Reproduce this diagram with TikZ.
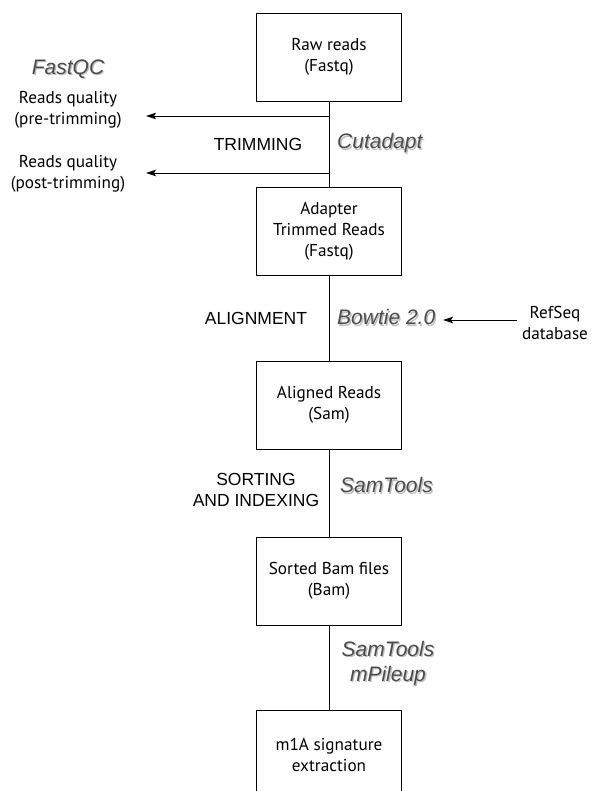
\documentclass[tikz,border=0pt]{standalone}
\usepackage{fontspec}
\setmainfont{PT Sans}
\newfontfamily\arialfont{Liberation Sans}
\usetikzlibrary{arrows.meta}
\newcommand\shtxt[1]{\makebox[0pt][l]{\hspace{1.3pt}\raisebox{-1.3pt}{\color{black!25}#1}}{\color{black!70}#1}}
\begin{document}
\begin{tikzpicture}[x=1pt,y=-1pt,
  box/.style={draw,line width=0.9pt,rectangle,minimum width=145pt,minimum height=88pt,inner sep=0pt,align=center,font=\fontsize{17.2}{21}\selectfont},
  plain/.style={align=center,inner sep=0pt,font=\fontsize{17.2}{21}\selectfont},
  stage/.style={align=center,inner sep=0pt,font=\arialfont\fontsize{17.5}{21}\selectfont},
  tool/.style={align=center,inner sep=0pt,font=\arialfont\itshape\fontsize{21}{25}\selectfont},
  conn/.style={line width=0.9pt},
  arr/.style={line width=0.9pt,-{Stealth[length=10pt,width=6.5pt,inset=2pt]}}]
\useasboundingbox (0,0) rectangle (590,791);
% boxes
\node[box] (b1) at (329,57) {Raw reads\\(Fastq)};
\node[box] (b2) at (329,231) {Adapter\\Trimmed Reads\\(Fastq)};
\node[box] (b3) at (329,405) {Aligned Reads\\(Sam)};
\node[box] (b4) at (329,581) {Sorted Bam files\\(Bam)};
\node[box,minimum height=90pt] (b5) at (329,755) {m1A signature\\extraction};
% vertical connectors
\draw[conn] (b1) -- (b2);
\draw[conn] (b2) -- (b3);
\draw[conn] (b3) -- (b4);
\draw[conn] (b4) -- (b5);
% QC branch
\node[tool] (fastqc) at (68,70) {\shtxt{FastQC}};
\node[plain] (rq1) at (68,110) {Reads quality\\(pre-trimming)};
\node[plain] (rq2) at (68,174) {Reads quality\\(post-trimming)};
\coordinate (q1) at (329,116);
\coordinate (t1) at (146,116);
\coordinate (q2) at (329,173);
\coordinate (t2) at (146,173);
\draw[arr] (q1) -- (t1);
\draw[arr] (q2) -- (t2);
% stage labels
\node[stage] (trim) at (258,144) {TRIMMING};
\node[tool,anchor=west] (cut) at (337,144) {\shtxt{Cutadapt}};
\node[stage] (align) at (256,318) {ALIGNMENT};
\node[tool,anchor=west] (bow) at (337,318) {\shtxt{Bowtie 2.0}};
\node[plain] (ref) at (555,323) {RefSeq\\database};
\coordinate (r1) at (517,320);
\coordinate (r2) at (443,320);
\draw[arr] (r1) -- (r2);
\node[stage] (sort) at (256,490) {SORTING\\AND INDEXING};
\node[tool,anchor=west] (st1) at (340,486) {\shtxt{SamTools}};
\node[tool] (st2) at (388,664) {\shtxt{SamTools}\\\shtxt{mPileup}};
\end{tikzpicture}
\end{document}
